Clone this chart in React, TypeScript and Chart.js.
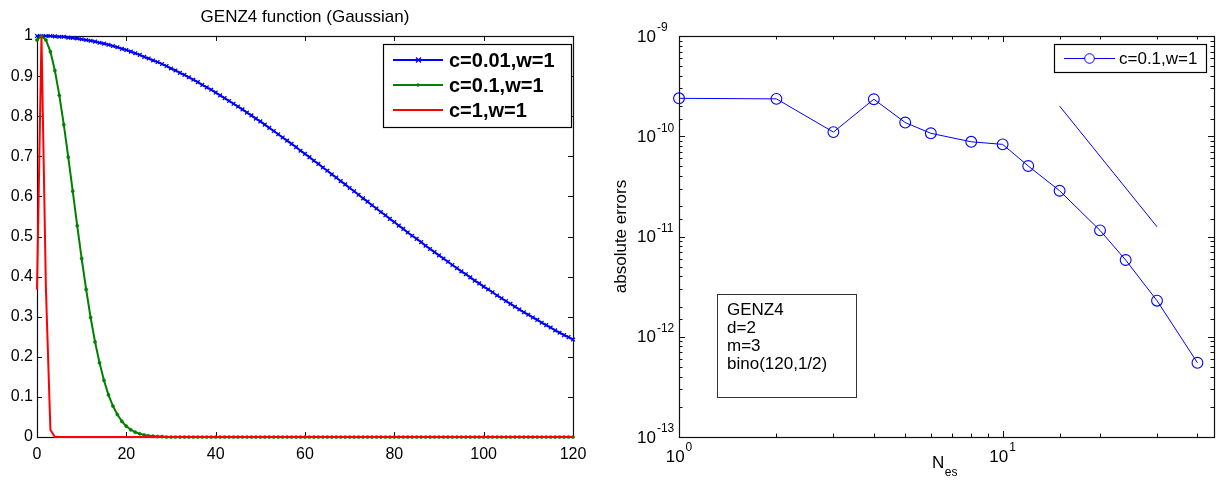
import React, { useEffect, useRef } from 'react';
import { Chart, registerables } from 'chart.js';

Chart.register(...registerables);

const FONT = '"Liberation Sans", Arial, Helvetica, sans-serif';

// ---------- left panel: GENZ4 function values ----------
const xGrid = [
  0, 1, 2, 3, 4, 5, 6, 7, 8, 9,
  10, 11, 12, 13, 14, 15, 16, 17, 18, 19,
  20, 21, 22, 23, 24, 25, 26, 27, 28, 29,
  30, 31, 32, 33, 34, 35, 36, 37, 38, 39,
  40, 41, 42, 43, 44, 45, 46, 47, 48, 49,
  50, 51, 52, 53, 54, 55, 56, 57, 58, 59,
  60, 61, 62, 63, 64, 65, 66, 67, 68, 69,
  70, 71, 72, 73, 74, 75, 76, 77, 78, 79,
  80, 81, 82, 83, 84, 85, 86, 87, 88, 89,
  90, 91, 92, 93, 94, 95, 96, 97, 98, 99,
  100, 101, 102, 103, 104, 105, 106, 107, 108, 109,
  110, 111, 112, 113, 114, 115, 116, 117, 118, 119,
  120,
];

const seriesLabels = ['c=0.01,w=1', 'c=0.1,w=1', 'c=1,w=1'];

const genzC001 = [
  1.0, 1.0, 1.0, 1.0, 0.999, 0.998, 0.998, 0.996, 0.995, 0.994,
  0.992, 0.99, 0.988, 0.986, 0.983, 0.981, 0.978, 0.975, 0.972, 0.968,
  0.965, 0.961, 0.957, 0.953, 0.948, 0.944, 0.939, 0.935, 0.93, 0.925,
  0.919, 0.914, 0.908, 0.903, 0.897, 0.891, 0.885, 0.878, 0.872, 0.866,
  0.859, 0.852, 0.845, 0.838, 0.831, 0.824, 0.817, 0.809, 0.802, 0.794,
  0.787, 0.779, 0.771, 0.763, 0.755, 0.747, 0.739, 0.731, 0.723, 0.714,
  0.706, 0.698, 0.689, 0.681, 0.672, 0.664, 0.655, 0.647, 0.638, 0.63,
  0.621, 0.613, 0.604, 0.595, 0.587, 0.578, 0.57, 0.561, 0.553, 0.544,
  0.536, 0.527, 0.519, 0.51, 0.502, 0.494, 0.486, 0.477, 0.469, 0.461,
  0.453, 0.445, 0.437, 0.429, 0.421, 0.413, 0.406, 0.398, 0.39, 0.383,
  0.375, 0.368, 0.361, 0.353, 0.346, 0.339, 0.332, 0.325, 0.318, 0.311,
  0.305, 0.298, 0.292, 0.285, 0.279, 0.273, 0.266, 0.26, 0.254, 0.249,
  0.243,
];

const genzC01 = [
  0.99, 1.0, 0.99, 0.961, 0.914, 0.852, 0.779, 0.698, 0.613, 0.527,
  0.445, 0.368, 0.298, 0.237, 0.185, 0.141, 0.105, 0.077, 0.056, 0.039,
  0.027, 0.018, 0.012, 0.008, 0.005, 0.003, 0.002, 0.001, 0.001, 0,
  0, 0, 0, 0, 0, 0, 0, 0, 0, 0,
  0, 0, 0, 0, 0, 0, 0, 0, 0, 0,
  0, 0, 0, 0, 0, 0, 0, 0, 0, 0,
  0, 0, 0, 0, 0, 0, 0, 0, 0, 0,
  0, 0, 0, 0, 0, 0, 0, 0, 0, 0,
  0, 0, 0, 0, 0, 0, 0, 0, 0, 0,
  0, 0, 0, 0, 0, 0, 0, 0, 0, 0,
  0, 0, 0, 0, 0, 0, 0, 0, 0, 0,
  0, 0, 0, 0, 0, 0, 0, 0, 0, 0,
  0,
];

const genzC1 = [
  0.368, 1.0, 0.368, 0.018, 0, 0, 0, 0, 0, 0,
  0, 0, 0, 0, 0, 0, 0, 0, 0, 0,
  0, 0, 0, 0, 0, 0, 0, 0, 0, 0,
  0, 0, 0, 0, 0, 0, 0, 0, 0, 0,
  0, 0, 0, 0, 0, 0, 0, 0, 0, 0,
  0, 0, 0, 0, 0, 0, 0, 0, 0, 0,
  0, 0, 0, 0, 0, 0, 0, 0, 0, 0,
  0, 0, 0, 0, 0, 0, 0, 0, 0, 0,
  0, 0, 0, 0, 0, 0, 0, 0, 0, 0,
  0, 0, 0, 0, 0, 0, 0, 0, 0, 0,
  0, 0, 0, 0, 0, 0, 0, 0, 0, 0,
  0, 0, 0, 0, 0, 0, 0, 0, 0, 0,
  0,
];

// ---------- right panel: absolute errors ----------
const nesValues = [1, 2, 3, 4, 5, 6, 8, 10, 12, 15, 20, 24, 30, 40];
const absErrors = [
  2.39e-10, 2.36e-10, 1.1e-10, 2.34e-10, 1.37e-10, 1.07e-10, 8.8e-11,
  8.3e-11, 5.05e-11, 2.86e-11, 1.15e-11, 5.83e-12, 2.29e-12, 5.5e-13,
];
const slopeN = [15, 30];
const slopeErr = [2.0e-10, 1.25e-11];
const errorLabel = 'c=0.1,w=1';
const infoLines = ['GENZ4', 'd=2', 'm=3', 'bino(120,1/2)'];

const crisp = (v: number) => Math.round(v) + 0.5;
const isPow10 = (v: number) => {
  const l = Math.log10(v);
  return Math.abs(l - Math.round(l)) < 1e-6;
};

function drawFrame(chart: any, logMode: boolean) {
  const { ctx, chartArea: a } = chart;
  const xs = chart.scales.x;
  const ys = chart.scales.y;
  ctx.save();
  ctx.strokeStyle = '#111';
  ctx.lineWidth = 1;
  ctx.beginPath();
  xs.ticks.forEach((t: any) => {
    const p = xs.getPixelForValue(t.value);
    if (p < a.left + 1 || p > a.right - 1) return;
    const len = logMode ? (isPow10(t.value) ? 6 : 3.5) : 5;
    const x = crisp(p);
    ctx.moveTo(x, a.bottom);
    ctx.lineTo(x, a.bottom - len);
    ctx.moveTo(x, a.top);
    ctx.lineTo(x, a.top + len);
  });
  ys.ticks.forEach((t: any) => {
    const p = ys.getPixelForValue(t.value);
    if (p < a.top + 1 || p > a.bottom - 1) return;
    const len = logMode ? (isPow10(t.value) ? 6 : 3.5) : 5;
    const y = crisp(p);
    ctx.moveTo(a.left, y);
    ctx.lineTo(a.left + len, y);
    ctx.moveTo(a.right, y);
    ctx.lineTo(a.right - len, y);
  });
  ctx.stroke();
  ctx.lineWidth = 1.2;
  const l = crisp(a.left), t = crisp(a.top), r = crisp(a.right), b = crisp(a.bottom);
  ctx.strokeRect(l, t, r - l, b - t);
  ctx.restore();
}

const leftDecor = {
  id: 'leftDecor',
  beforeDatasetsDraw(chart: any) {
    drawFrame(chart, false);
  },
  afterDatasetsDraw(chart: any) {
    const { ctx, chartArea: a } = chart;
    ctx.save();
    // title
    ctx.fillStyle = '#000';
    ctx.font = `17px ${FONT}`;
    ctx.textAlign = 'center';
    ctx.textBaseline = 'middle';
    ctx.fillText('GENZ4 function (Gaussian)', (a.left + a.right) / 2, 17);
    // legend
    const bx = 383, by = 44, bw = 188, bh = 83;
    ctx.fillStyle = '#fff';
    ctx.fillRect(bx, by, bw, bh);
    ctx.strokeStyle = '#000';
    ctx.lineWidth = 1.2;
    ctx.strokeRect(bx + 0.5, by + 0.5, bw, bh);
    const rows = [60, 85, 110];
    chart.data.datasets.forEach((ds: any, i: number) => {
      const y = rows[i];
      ctx.strokeStyle = ds.borderColor;
      ctx.lineWidth = 2;
      ctx.beginPath();
      ctx.moveTo(393, y);
      ctx.lineTo(443, y);
      ctx.stroke();
      if (ds.pointStyle === 'crossRot') {
        ctx.lineWidth = 1.3;
        ctx.beginPath();
        ctx.moveTo(416, y - 2.5);
        ctx.lineTo(421, y + 2.5);
        ctx.moveTo(421, y - 2.5);
        ctx.lineTo(416, y + 2.5);
        ctx.stroke();
      } else if (ds.pointRadius > 0) {
        ctx.fillStyle = ds.borderColor;
        ctx.beginPath();
        ctx.arc(418, y, 1.8, 0, Math.PI * 2);
        ctx.fill();
      }
      ctx.fillStyle = '#000';
      ctx.font = `bold 20px ${FONT}`;
      ctx.textAlign = 'left';
      ctx.textBaseline = 'middle';
      ctx.fillText(ds.label, 449, y + 1);
    });
    ctx.restore();
  },
};

const rightDecor = {
  id: 'rightDecor',
  beforeDatasetsDraw(chart: any) {
    drawFrame(chart, true);
    const { ctx, chartArea: a } = chart;
    const xs = chart.scales.x;
    const ys = chart.scales.y;
    ctx.save();
    ctx.fillStyle = '#000';
    ctx.textBaseline = 'middle';
    ctx.textAlign = 'left';
    // y tick labels 10^k
    ys.ticks.forEach((t: any) => {
      if (!isPow10(t.value)) return;
      const p = ys.getPixelForValue(t.value);
      const e = String(Math.round(Math.log10(t.value)));
      ctx.font = `17px ${FONT}`;
      const w10 = ctx.measureText('10').width;
      ctx.fillText('10', 37, p + 1);
      ctx.font = `12px ${FONT}`;
      ctx.fillText(e, 37 + w10 + 1, p - 8);
    });
    // x tick labels 10^k
    xs.ticks.forEach((t: any) => {
      if (!isPow10(t.value)) return;
      const p = xs.getPixelForValue(t.value);
      const e = String(Math.round(Math.log10(t.value)));
      ctx.font = `17px ${FONT}`;
      const w10 = ctx.measureText('10').width;
      ctx.font = `12px ${FONT}`;
      const we = ctx.measureText(e).width;
      const start = p - (w10 + we + 1) / 2;
      ctx.font = `17px ${FONT}`;
      ctx.fillText('10', start, 457.5);
      ctx.font = `12px ${FONT}`;
      ctx.fillText(e, start + w10 + 1, 448);
    });
    // axis titles
    ctx.font = `17px ${FONT}`;
    ctx.fillText('N', 332, 463);
    const wN = ctx.measureText('N').width;
    ctx.font = `12px ${FONT}`;
    ctx.fillText('es', 332 + wN + 0.5, 473);
    ctx.save();
    ctx.translate(21, (a.top + a.bottom) / 2);
    ctx.rotate(-Math.PI / 2);
    ctx.textAlign = 'center';
    ctx.font = `17px ${FONT}`;
    ctx.fillText('absolute errors', 0, 0);
    ctx.restore();
    ctx.restore();
  },
  afterDatasetsDraw(chart: any) {
    const { ctx } = chart;
    ctx.save();
    // legend
    const bx = 454, by = 44, bw = 152, bh = 28;
    ctx.fillStyle = '#fff';
    ctx.fillRect(bx, by, bw, bh);
    ctx.strokeStyle = '#000';
    ctx.lineWidth = 1.2;
    ctx.strokeRect(bx + 0.5, by + 0.5, bw, bh);
    const ds = chart.data.datasets[0];
    const y = 58;
    ctx.strokeStyle = ds.borderColor;
    ctx.lineWidth = 1;
    ctx.beginPath();
    ctx.moveTo(464, y + 0.5);
    ctx.lineTo(515, y + 0.5);
    ctx.stroke();
    ctx.fillStyle = '#fff';
    ctx.beginPath();
    ctx.arc(489.5, y + 0.5, 4.8, 0, Math.PI * 2);
    ctx.fill();
    ctx.stroke();
    ctx.fillStyle = '#000';
    ctx.font = `17px ${FONT}`;
    ctx.textAlign = 'left';
    ctx.textBaseline = 'middle';
    ctx.fillText(ds.label, 519, y + 1);
    // info box
    const ix = 117, iy = 294, iw = 139, ih = 103;
    ctx.fillStyle = '#fff';
    ctx.fillRect(ix, iy, iw, ih);
    ctx.strokeStyle = '#333';
    ctx.lineWidth = 1;
    ctx.strokeRect(ix + 0.5, iy + 0.5, iw, ih);
    ctx.fillStyle = '#000';
    ctx.font = `17px ${FONT}`;
    infoLines.forEach((s, i) => {
      ctx.fillText(s, 127, 310 + i * 18);
    });
    ctx.restore();
  },
};

function ChartCanvas({ config, left, width }: { config: any; left: number; width: number }) {
  const ref = useRef<HTMLCanvasElement | null>(null);
  useEffect(() => {
    if (!ref.current) return;
    const chart = new Chart(ref.current, config);
    return () => chart.destroy();
  }, []);
  return (
    <canvas
      ref={ref}
      width={width}
      height={480}
      style={{ position: 'absolute', left, top: 0, width, height: 480 }}
    />
  );
}

const tickFont = { family: FONT, size: 16 };

const leftConfig = {
  type: 'line',
  data: {
    datasets: [
      {
        label: seriesLabels[0],
        data: xGrid.map((x, i) => ({ x, y: genzC001[i] })),
        borderColor: '#0000ff',
        backgroundColor: '#0000ff',
        borderWidth: 2,
        pointStyle: 'crossRot',
        pointRadius: 2.6,
        pointBorderWidth: 1.3,
        order: 3,
        clip: false,
      },
      {
        label: seriesLabels[1],
        data: xGrid.map((x, i) => ({ x, y: genzC01[i] })),
        borderColor: '#008000',
        backgroundColor: '#008000',
        borderWidth: 2,
        pointStyle: 'circle',
        pointRadius: 1.6,
        pointBorderWidth: 0.5,
        order: 2,
        clip: false,
      },
      {
        label: seriesLabels[2],
        data: xGrid.map((x, i) => ({ x, y: genzC1[i] })),
        borderColor: '#ff0000',
        backgroundColor: '#ff0000',
        borderWidth: 2,
        pointRadius: 0,
        order: 1,
        clip: false,
      },
    ],
  },
  options: {
    responsive: false,
    maintainAspectRatio: false,
    animation: false,
    devicePixelRatio: 1,
    events: [],
    layout: { padding: { top: 36, right: 27, left: 0, bottom: 0 } },
    plugins: { legend: { display: false }, tooltip: { enabled: false }, title: { display: false } },
    scales: {
      x: {
        type: 'linear',
        min: 0,
        max: 120,
        ticks: { stepSize: 20, font: tickFont, color: '#000', padding: 8, autoSkip: false, maxRotation: 0 },
        grid: { display: false, drawTicks: false },
        border: { display: false },
        afterFit: (s: any) => { s.height = 43; },
      },
      y: {
        type: 'linear',
        min: 0,
        max: 1,
        ticks: {
          stepSize: 0.1,
          font: tickFont,
          color: '#000',
          padding: 4,
          autoSkip: false,
          callback: (v: any) => String(Number(Number(v).toFixed(1))),
        },
        grid: { display: false, drawTicks: false },
        border: { display: false },
        afterFit: (s: any) => { s.width = 37; },
      },
    },
  },
  plugins: [leftDecor],
};

const rightConfig = {
  type: 'line',
  data: {
    datasets: [
      {
        label: errorLabel,
        data: nesValues.map((x, i) => ({ x, y: absErrors[i] })),
        borderColor: '#0000ff',
        backgroundColor: 'rgba(0,0,0,0)',
        borderWidth: 1,
        pointStyle: 'circle',
        pointRadius: 5.4,
        pointBorderWidth: 1.1,
        clip: false,
      },
      {
        label: 'slope',
        data: slopeN.map((x, i) => ({ x, y: slopeErr[i] })),
        borderColor: '#0000ff',
        borderWidth: 1,
        pointRadius: 0,
        clip: false,
      },
    ],
  },
  options: {
    responsive: false,
    maintainAspectRatio: false,
    animation: false,
    devicePixelRatio: 1,
    events: [],
    layout: { padding: { top: 36, right: 7, left: 0, bottom: 0 } },
    plugins: { legend: { display: false }, tooltip: { enabled: false }, title: { display: false } },
    scales: {
      x: {
        type: 'logarithmic',
        min: 1,
        max: 45,
        ticks: { display: false },
        grid: { display: false, drawTicks: false },
        border: { display: false },
        afterFit: (s: any) => { s.height = 43; },
      },
      y: {
        type: 'logarithmic',
        min: 1e-13,
        max: 1e-9,
        ticks: { display: false },
        grid: { display: false, drawTicks: false },
        border: { display: false },
        afterFit: (s: any) => { s.width = 79; },
      },
    },
  },
  plugins: [rightDecor],
};

export default function App() {
  return (
    <div style={{ position: 'absolute', left: 0, top: 0, width: 1221, height: 480, background: '#fff' }}>
      <ChartCanvas config={leftConfig} left={0} width={600} />
      <ChartCanvas config={rightConfig} left={600} width={621} />
    </div>
  );
}
